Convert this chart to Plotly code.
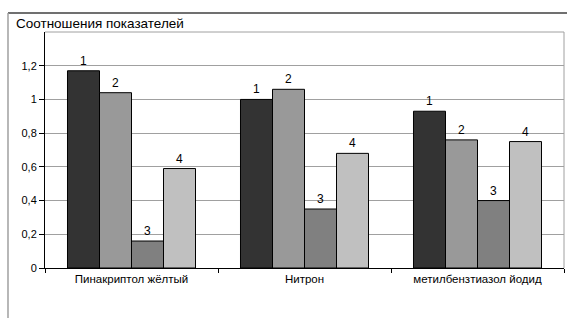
import plotly.graph_objects as go

categories = ["Пинакриптол жёлтый", "Нитрон", "метилбензтиазол йодид"]
series_names = ["1", "2", "3", "4"]
series_values = [
    [1.17, 1.00, 0.93],
    [1.04, 1.06, 0.76],
    [0.16, 0.35, 0.40],
    [0.59, 0.68, 0.75],
]
series_colors = ["#333333", "#999999", "#808080", "#c0c0c0"]
y_tickvals = [0, 0.2, 0.4, 0.6, 0.8, 1.0, 1.2]
y_ticktext = ["0", "0,2", "0,4", "0,6", "0,8", "1", "1,2"]
title_text = "Соотношения показателей"

FONT = "Liberation Sans, Arial, sans-serif"

fig = go.Figure()
for name, vals, col in zip(series_names, series_values, series_colors):
    fig.add_trace(go.Bar(
        x=categories, y=vals, name=name,
        marker=dict(color=col, line=dict(color="#000000", width=1)),
        text=[name] * len(vals), textposition="outside",
        textfont=dict(family=FONT, size=12, color="#000000"),
        cliponaxis=False,
    ))

fig.update_layout(
    width=570, height=318,
    margin=dict(l=45, r=6, t=32, b=50, autoexpand=False),
    paper_bgcolor="white", plot_bgcolor="white",
    barmode="group", bargap=0.26, bargroupgap=0,
    showlegend=False,
    font=dict(family=FONT, size=11, color="#000000"),
)
fig.update_xaxes(
    type="category", showline=True, linecolor="#000000", linewidth=1,
    ticks="outside", tickson="boundaries", ticklen=4, tickcolor="#000000",
    tickfont=dict(family=FONT, size=11.5), showgrid=False, automargin=False,
)
fig.update_yaxes(
    range=[0, 1.4], tickvals=y_tickvals, ticktext=y_ticktext,
    showline=True, linecolor="#000000", linewidth=1,
    ticks="outside", ticklen=5, tickcolor="#000000",
    showgrid=True, gridcolor="#a0a0a0", gridwidth=1, zeroline=False,
    tickfont=dict(family=FONT, size=11), automargin=False,
)
# plot area border (top/right)
fig.add_shape(type="line", xref="paper", yref="paper", x0=0, x1=1, y0=1, y1=1,
              line=dict(color="#a0a0a0", width=1))
fig.add_shape(type="line", xref="paper", yref="paper", x0=1, x1=1, y0=0, y1=1,
              line=dict(color="#a0a0a0", width=1))
# outer frame lines
fig.add_shape(type="line", xref="paper", yref="paper", x0=-0.0713, x1=1.0058,
              y0=1.0805, y1=1.0805, line=dict(color="#404040", width=1.5))
fig.add_shape(type="line", xref="paper", yref="paper", x0=-0.0713, x1=-0.0713,
              y0=-0.22, y1=1.0805, line=dict(color="#a0a0a0", width=1.5))
fig.add_annotation(text=title_text, xref="paper", yref="paper",
                   x=-0.06, y=1.075, xanchor="left", yanchor="top", showarrow=False,
                   font=dict(family=FONT, size=13.5, color="#000000"))

fig.write_html("out.html", config={"displayModeBar": False},
               post_script="document.body.style.margin='0';document.body.style.overflow='hidden';")
